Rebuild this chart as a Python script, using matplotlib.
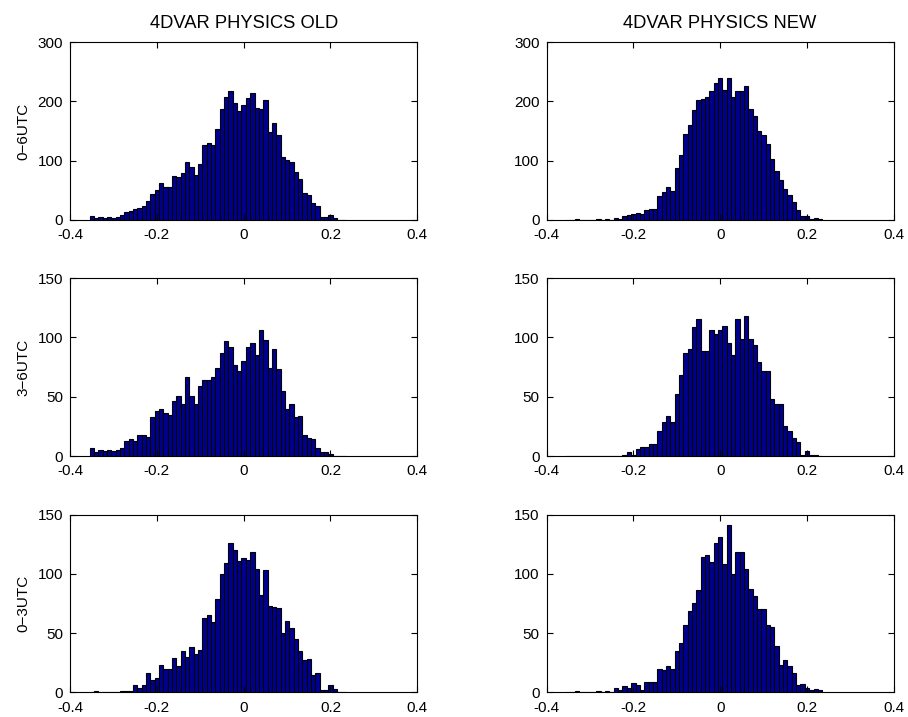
import matplotlib.pyplot as plt
import numpy as np

plt.rcParams["font.family"] = ["Liberation Sans", "DejaVu Sans"]
plt.rcParams["font.size"] = 11

# bin centres (0.01 wide) from -0.35 to 0.23
centers = np.round(np.arange(-0.35, 0.235, 0.01), 2)

# 0-6 UTC, old physics
old_06 = [7, 4, 5, 4, 5, 4, 5, 8, 13, 15, 19, 21, 24, 32, 43, 50, 63, 55, 55, 75,
          73, 79, 98, 89, 76, 95, 127, 130, 127, 154, 188, 207, 218, 198, 184, 194,
          205, 214, 189, 188, 202, 148, 163, 144, 106, 101, 98, 81, 69, 45, 42, 28,
          23, 5, 5, 8, 3, 0, 0]
# 0-6 UTC, new physics
new_06 = [0, 0, 1, 0, 0, 0, 0, 1, 0, 1, 0, 4, 2, 6, 8, 10, 12, 10, 17, 19,
          19, 41, 47, 56, 49, 87, 110, 145, 160, 185, 203, 204, 207, 217, 231, 239,
          219, 239, 207, 217, 218, 226, 187, 176, 150, 143, 129, 103, 83, 68, 53, 42,
          31, 16, 7, 7, 1, 3, 2]
# 3-6 UTC
old_36 = [7, 3, 5, 4, 5, 4, 5, 7, 13, 14, 13, 18, 18, 16, 33, 38, 40, 36, 35, 46,
          51, 44, 67, 51, 44, 59, 64, 64, 67, 74, 87, 97, 92, 77, 72, 80,
          92, 95, 85, 106, 98, 74, 90, 73, 55, 40, 44, 33, 34, 18, 15, 14,
          7, 3, 3, 2, 0, 0, 0]
new_36 = [0, 0, 0, 0, 0, 0, 0, 0, 0, 0, 0, 0, 0, 1, 3, 1, 6, 8, 8, 10,
          10, 21, 29, 34, 29, 52, 68, 87, 90, 109, 116, 89, 89, 106, 103, 106,
          110, 95, 85, 116, 99, 118, 99, 94, 79, 72, 72, 48, 44, 44, 25, 21,
          15, 12, 1, 4, 1, 1, 0]
# 0-3 UTC
old_03 = [0, 1, 0, 0, 0, 0, 0, 1, 1, 1, 6, 4, 6, 16, 10, 12, 23, 20, 20, 29,
          22, 35, 30, 38, 32, 36, 63, 65, 59, 79, 100, 109, 126, 120, 111, 113,
          112, 118, 104, 82, 103, 73, 72, 71, 50, 60, 54, 45, 35, 27, 28, 15,
          16, 2, 2, 6, 3, 0, 0]
new_03 = [0, 0, 1, 0, 0, 0, 0, 1, 0, 1, 0, 4, 2, 5, 4, 8, 6, 2, 9, 9,
          9, 20, 19, 22, 20, 35, 42, 57, 69, 75, 86, 114, 116, 110, 126, 131,
          108, 141, 100, 118, 118, 104, 87, 81, 70, 70, 57, 55, 39, 23, 27, 22,
          16, 6, 7, 4, 2, 3, 2]

titles = ["4DVAR PHYSICS OLD", "4DVAR PHYSICS NEW"]
row_labels = ["0\u22126UTC", "3\u22126UTC", "0\u22123UTC"]
rows = [(old_06, new_06), (old_36, new_36), (old_03, new_03)]
ymax = [300, 150, 150]
yticks = [[0, 100, 200, 300], [0, 50, 100, 150], [0, 50, 100, 150]]

fig = plt.figure(figsize=(9.08, 7.17), dpi=100)

lefts = [0.0771, 0.6019]
bottoms = [0.6932, 0.3640, 0.0344]
width, height = 0.3825, 0.2480

for r, (pair, lab) in enumerate(zip(rows, row_labels)):
    for c, counts in enumerate(pair):
        ax = fig.add_axes([lefts[c], bottoms[r], width, height])
        ax.bar(centers, counts, width=0.01, color="#000090",
               edgecolor="black", linewidth=0.8)
        ax.set_xlim(-0.4, 0.4)
        ax.set_ylim(0, ymax[r])
        ax.set_xticks([-0.4, -0.2, 0, 0.2, 0.4])
        ax.set_xticklabels(["-0.4", "-0.2", "0", "0.2", "0.4"])
        ax.set_yticks(yticks[r])
        ax.tick_params(direction="in", top=True, right=True, length=4)
        ax.tick_params(axis="x", pad=6)
        ax.tick_params(axis="y", pad=5)
        for s in ax.spines.values():
            s.set_linewidth(0.8)
        if r == 0:
            ax.set_title(titles[c], pad=10)
        if c == 0:
            ax.set_ylabel(lab, labelpad=5)

plt.savefig("out.png", dpi=100)
